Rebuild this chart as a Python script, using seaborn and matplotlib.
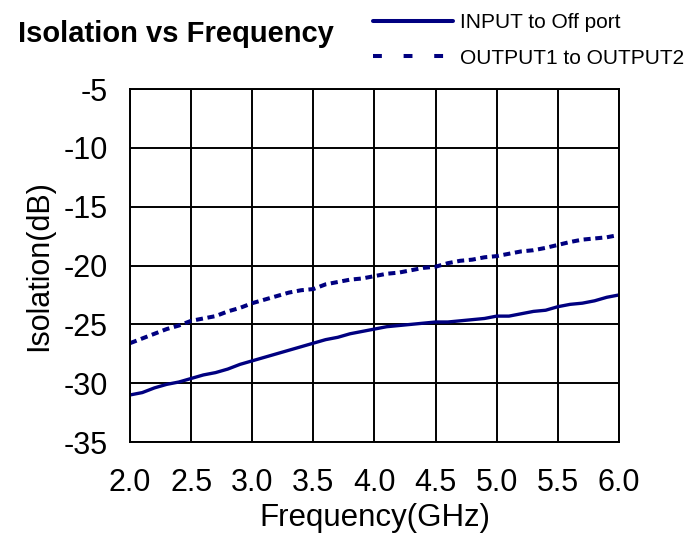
import numpy as np
import pandas as pd
import matplotlib
matplotlib.use("Agg")
import matplotlib.pyplot as plt
import seaborn as sns

# 频率点 (GHz)
freq = [2.0, 2.1, 2.2, 2.3, 2.4, 2.5, 2.6, 2.7, 2.8, 2.9,
        3.0, 3.1, 3.2, 3.3, 3.4, 3.5, 3.6, 3.7, 3.8, 3.9,
        4.0, 4.1, 4.2, 4.3, 4.4, 4.5, 4.6, 4.7, 4.8, 4.9,
        5.0, 5.1, 5.2, 5.3, 5.4, 5.5, 5.6, 5.7, 5.8, 5.9, 6.0]

# INPUT to Off port
iso_input = [-31.0, -30.8, -30.4, -30.1, -29.9, -29.6, -29.3, -29.1, -28.8, -28.4,
             -28.1, -27.8, -27.5, -27.2, -26.9, -26.6, -26.3, -26.1, -25.8, -25.6,
             -25.4, -25.2, -25.1, -25.0, -24.9, -24.8, -24.8, -24.7, -24.6, -24.5,
             -24.3, -24.3, -24.1, -23.9, -23.8, -23.5, -23.3, -23.2, -23.0, -22.7, -22.5]

# OUTPUT1 to OUTPUT2
iso_output = [-26.6, -26.2, -25.8, -25.4, -25.1, -24.7, -24.5, -24.3, -23.9, -23.6,
              -23.2, -22.9, -22.6, -22.3, -22.1, -22.0, -21.6, -21.4, -21.2, -21.1,
              -20.9, -20.7, -20.6, -20.4, -20.2, -20.1, -19.8, -19.6, -19.5, -19.3,
              -19.2, -19.0, -18.8, -18.7, -18.5, -18.25, -18.0, -17.8, -17.7, -17.6, -17.4]

series_names = ['INPUT to Off port', 'OUTPUT1 to OUTPUT2']
x_ticks = [2.0, 2.5, 3.0, 3.5, 4.0, 4.5, 5.0, 5.5, 6.0]
y_ticks = [-5, -10, -15, -20, -25, -30, -35]

sns.set_style("white")
plt.rcParams['font.family'] = ['Liberation Sans', 'DejaVu Sans']
plt.rcParams['axes.unicode_minus'] = False
plt.rcParams['text.color'] = 'black'
plt.rcParams['axes.labelcolor'] = 'black'
plt.rcParams['xtick.color'] = 'black'
plt.rcParams['ytick.color'] = 'black'

df = pd.DataFrame({
    'freq': freq * 2,
    'iso': iso_input + iso_output,
    'name': [series_names[0]] * len(freq) + [series_names[1]] * len(freq),
})

fig = plt.figure(figsize=(6.93, 5.35), dpi=100)
ax = fig.add_axes([0.1876, 0.1738, 0.7056, 0.6598])

sns.lineplot(data=df, x='freq', y='iso', hue='name', style='name',
             palette=['#000080', '#000080'],
             dashes=[(None, None), (1.75, 1.15)],
             size='name', sizes=[2.4, 2.9],
             ax=ax, legend=False)

ax.set_xlim(2.0, 6.0)
ax.set_ylim(-35, -5)
ax.set_xticks(x_ticks)
ax.set_xticklabels(['%.1f' % v for v in x_ticks])
ax.set_yticks(y_ticks)
ax.set_yticklabels([str(v) for v in y_ticks])
ax.tick_params(axis='both', labelsize=22, length=0)
ax.tick_params(axis='x', pad=19)
ax.tick_params(axis='y', pad=16)
ax.grid(True, color='black', linewidth=1.4)
for sp in ax.spines.values():
    sp.set_color('black')
    sp.set_linewidth(1.4)

ax.set_xlabel('Frequency(GHz)', fontsize=22.5, labelpad=3)
ax.set_ylabel('Isolation(dB)', fontsize=22, labelpad=7)

fig.text(0.026, 0.937, 'Isolation vs Frequency', fontsize=21, fontweight='bold',
         ha='left', va='center')

# 图例放在图上方
handles = [plt.Line2D([], [], color='#000080', linewidth=2.9),
           plt.Line2D([], [], color='#000080', linewidth=2.9, dashes=(2.2, 5.4))]
fig.legend(handles, series_names, loc='upper left', bbox_to_anchor=(0.538, 0.976),
           frameon=False, fontsize=15, handlelength=3.85, handletextpad=0.33,
           labelspacing=0.8, borderaxespad=0, borderpad=0)

fig.savefig('out.png', dpi=100)
